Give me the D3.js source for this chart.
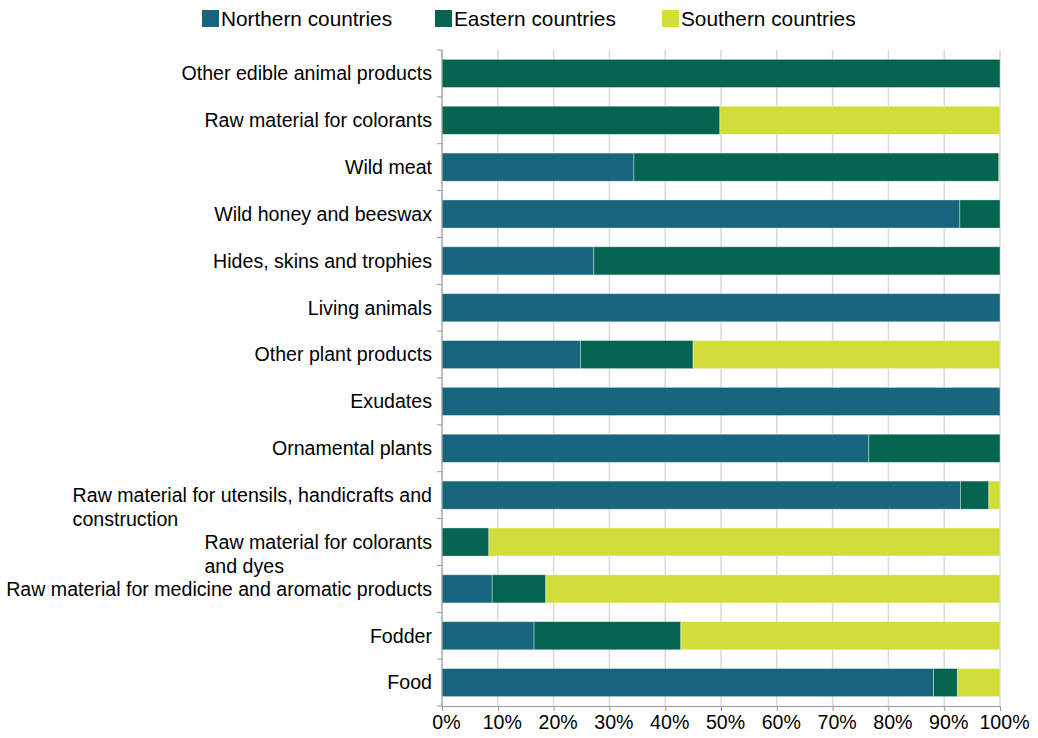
<!DOCTYPE html>
<html>
<head>
<meta charset="utf-8">
<script src="https://cdn.jsdelivr.net/npm/d3@7"></script>
<style>
  body { margin: 0; background: #fff; }
  svg { font-family: "Liberation Sans", Arial, sans-serif; }
</style>
</head>
<body>
<div id="chart"></div>
<script>
// data, top row first
var categories = [
	"Other edible animal products",
	"Raw material for colorants",
	"Wild meat",
	"Wild honey and beeswax",
	"Hides, skins and trophies",
	"Living animals",
	"Other plant products",
	"Exudates",
	"Ornamental plants",
	"Raw material for utensils, handicrafts and\nconstruction",
	"Raw material for colorants\nand dyes",
	"Raw material for medicine and aromatic products",
	"Fodder",
	"Food"
];
var seriesNames = ["Northern countries", "Eastern countries", "Southern countries"];
var northern = [0, 0, 34.4, 92.8, 27.2, 100, 24.8, 100, 76.5, 92.9, 0, 9.0, 16.5, 88.1];
var eastern  = [100, 49.8, 65.4, 7.2, 72.8, 0, 20.2, 0, 23.5, 5.1, 8.4, 9.6, 26.3, 4.3];
var southern = [0, 50.2, 0.2, 0, 0, 0, 55.0, 0, 0, 2.0, 91.6, 81.4, 57.2, 7.6];
var xTicks = [0, 10, 20, 30, 40, 50, 60, 70, 80, 90, 100];

var COLORS = ["#17667d", "#03644f", "#d1de39"];
const LABEL_SIZE = "19.6px";

var margin = {top: 50, right: 38, bottom: 32, left: 442},
	width = 1038 - margin.left - margin.right,
	height = 738 - margin.top - margin.bottom;

var rows = categories.map(function(c, i) {
	return {cat: c, n: northern[i], e: eastern[i], s: southern[i]};
});

var svg = d3.select("#chart")
	.append("svg")
	.attr("width", 1038)
	.attr("height", 738);

var g = svg.append("g")
	.attr("transform", "translate(" + margin.left + "," + margin.top + ")");

var x = d3.scaleLinear()
	.domain([0, 100])
	.range([0, width]);

var y = d3.scaleBand()
	.domain(categories)
	.range([0, height])
	.paddingInner(0.4)
	.paddingOuter(0.2);

// gridlines
g.append("g")
	.selectAll("line")
	.data(xTicks)
	.enter()
	.append("line")
	.attr("x1", d => x(d))
	.attr("x2", d => x(d))
	.attr("y1", 0)
	.attr("y2", height)
	.attr("stroke", "#d9d9d9")
	.attr("stroke-width", 1.5);

// bars
var stack = d3.stack().keys(["n", "e", "s"]);
var layers = stack(rows);

g.append("g")
	.selectAll("g")
	.data(layers)
	.enter()
	.append("g")
	.attr("fill", (d, i) => COLORS[i])
	.selectAll("rect")
	.data(d => d)
	.enter()
	.append("rect")
	.filter(d => d[1] - d[0] > 0)
	.attr("x", d => x(d[0]))
	.attr("y", d => y(d.data.cat))
	.attr("width", d => x(d[1]) - x(d[0]))
	.attr("height", y.bandwidth())
	.attr("stroke", "rgba(255,255,255,0.45)")
	.attr("stroke-width", 0.8);

// x axis
var xAxis = g.append("g")
	.attr("transform", "translate(0," + height + ")")
	.call(d3.axisBottom(x)
		.tickValues(xTicks)
		.tickSize(5)
		.tickPadding(4)
		.tickFormat(d => d + "%"));
xAxis.selectAll("line").attr("stroke", "#999");
xAxis.select(".domain").attr("stroke", "#999");
xAxis.selectAll("text")
	.attr("fill", "#000")
	.attr("dx", 4)
	.style("font-size", LABEL_SIZE)
	.style("font-family", "Liberation Sans, Arial, sans-serif");

// y axis line + ticks at band edges
var yg = g.append("g");
yg.append("line")
	.attr("x1", 0).attr("x2", 0)
	.attr("y1", 0).attr("y2", height)
	.attr("stroke", "#999");
var step = y.step();
var edges = d3.range(categories.length + 1).map(i => i * step);
yg.selectAll("line.tk")
	.data(edges)
	.enter()
	.append("line")
	.attr("class", "tk")
	.attr("x1", -5).attr("x2", 0)
	.attr("y1", d => d).attr("y2", d => d)
	.attr("stroke", "#999");

// category labels (multi-line ones keep left-aligned lines, block right-aligned)
var labels = g.append("g")
	.selectAll("text")
	.data(categories)
	.enter()
	.append("text")
	.attr("y", d => y(d) + y.bandwidth() / 2)
	.style("font-size", LABEL_SIZE)
	.attr("fill", "#000");

labels.each(function(d) {
	var t = d3.select(this);
	var lines = d.split("\n");
	lines.forEach(function(l, i) {
		t.append("tspan")
			.attr("x", 0)
			.attr("dy", i == 0 ? "0.35em" : 24)
			.text(l);
	});
	var maxW = 0;
	t.selectAll("tspan").each(function() {
		maxW = Math.max(maxW, this.getComputedTextLength());
	});
	t.selectAll("tspan").attr("x", -10 - maxW);
});

// legend
var legendX = [202, 435, 662];
var legend = svg.append("g")
	.selectAll("g")
	.data(seriesNames)
	.enter()
	.append("g")
	.attr("transform", (d, i) => "translate(" + legendX[i] + ",10)");
legend.append("rect")
	.attr("width", 17)
	.attr("height", 17)
	.attr("fill", (d, i) => COLORS[i]);
legend.append("text")
	.attr("x", 19)
	.attr("y", 8.5)
	.attr("dy", "0.35em")
	.style("font-size", "20.8px")
	.text(d => d);
</script>
</body>
</html>
